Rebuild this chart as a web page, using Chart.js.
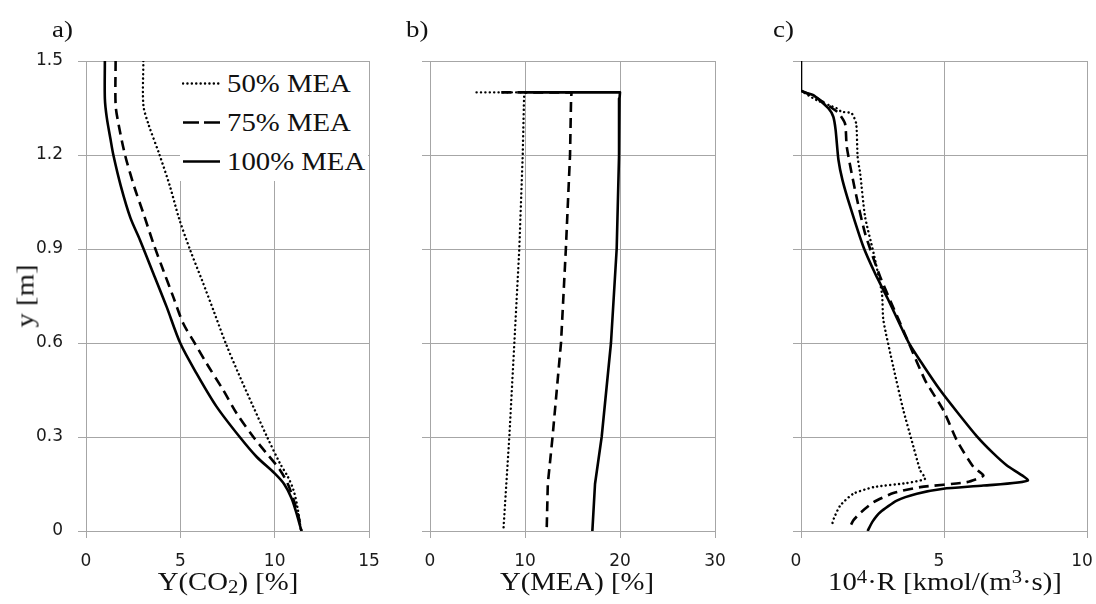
<!DOCTYPE html>
<html>
<head>
<meta charset="utf-8">
<script src="https://cdn.jsdelivr.net/npm/chart.js@4.4.1/dist/chart.umd.min.js"></script>
<style>
body { margin: 0; background: #fff; }
#wrap { position: relative; width: 1096px; height: 604px; overflow: hidden; font-family: "Liberation Serif", "Times New Roman", serif; color: #111; }
canvas { position: absolute; top: 0; }
.txt { position: absolute; line-height: 1; white-space: nowrap; }
.panel { font-size: 24px; top: 17px; transform: scaleX(1.12); transform-origin: left; }
.xtitle { font-size: 25px; top: 569px; transform: translateX(-50%) scaleX(1.15); }
.ytitle { font-size: 25px; left: 25px; top: 296px; transform: translate(-50%, -50%) rotate(-90deg) scaleX(1.15); }
sub { font-size: 0.72em; vertical-align: baseline; position: relative; top: 0.18em; }
sup { font-size: 0.72em; vertical-align: baseline; position: relative; top: -0.4em; }
#legend { position: absolute; left: 180px; top: 62px; width: 188px; height: 119px; background: #fff; }
.row { position: absolute; left: 0; width: 188px; height: 30px; }
.row svg { position: absolute; left: 2px; top: 0; }
.row span { position: absolute; left: 47px; font-size: 25px; line-height: 1; transform: scaleX(1.15); transform-origin: left; }
</style>
</head>
<body>
<div id="wrap">
  <canvas id="chartA" width="380" height="604" style="left:0px"></canvas>
  <canvas id="chartB" width="360" height="604" style="left:380px"></canvas>
  <canvas id="chartC" width="356" height="604" style="left:740px"></canvas>
  <div class="txt panel" style="left:52px">a)</div>
  <div class="txt panel" style="left:406px">b)</div>
  <div class="txt panel" style="left:773px">c)</div>
  <div class="txt ytitle">y [m]</div>
  <div class="txt xtitle" style="left:228px">Y(CO<sub>2</sub>) [%]</div>
  <div class="txt xtitle" style="left:577px">Y(MEA) [%]</div>
  <div class="txt xtitle" style="left:945px">10<sup>4</sup>·R [kmol/(m<sup>3</sup>·s)]</div>
  <div id="legend"></div>
</div>
<script>
const seriesNames = ['50% MEA', '75% MEA', '100% MEA'];
const yRange = [0, 1.5];
const yStep = 0.3;

// a) CO2 mole fraction, points are [x, y]
const co2Mea50 = [[3.04,1.5],[3.04,1.36],[3.3,1.3],[3.9,1.2],[4.45,1.1],[4.92,1.0],[5.5,0.9],[6.15,0.8],[6.78,0.7],[7.4,0.6],[8.1,0.5],[8.84,0.4],[9.6,0.3],[10.28,0.216],[10.7,0.173],[11.0,0.13],[11.2,0.078],[11.4,0]];
const co2Mea75 = [[1.57,1.5],[1.57,1.36],[1.72,1.3],[2.07,1.2],[2.55,1.1],[3.04,1.014],[3.57,0.918],[4.09,0.833],[4.62,0.748],[5.15,0.663],[5.77,0.599],[6.39,0.535],[7.27,0.45],[7.98,0.376],[8.86,0.301],[9.57,0.248],[10.28,0.195],[10.7,0.15],[11.0,0.1],[11.25,0.05],[11.42,0]];
const co2Mea100 = [[1.0,1.5],[1.0,1.38],[1.1,1.32],[1.3,1.25],[1.45,1.2],[1.85,1.1],[2.35,1.0],[2.86,0.929],[3.57,0.822],[4.27,0.716],[5.0,0.599],[5.86,0.503],[6.92,0.397],[8.16,0.299],[9.04,0.237],[10.0,0.184],[10.5,0.15],[10.9,0.104],[11.16,0.056],[11.42,0]];

// b) MEA mole fraction
const meaMea50 = [[4.9,1.4],[10.0,1.4],[9.9,1.385],[9.76,1.2],[9.4,0.9],[8.88,0.6],[8.35,0.3],[7.72,0]];
const meaMea75 = [[7.5,1.4],[14.9,1.4],[14.85,1.38],[14.74,1.2],[14.3,0.9],[13.79,0.6],[12.9,0.3],[12.4,0.15],[12.28,0]];
const meaMea100 = [[10.0,1.4],[20.0,1.4],[19.95,1.38],[19.9,1.2],[19.65,0.9],[19.05,0.6],[18.07,0.3],[17.37,0.15],[17.09,0]];

// c) reaction rate
const rateMea50 = [[0,1.405],[0.55,1.375],[1.25,1.349],[1.42,1.338],[1.77,1.333],[1.93,1.3],[1.98,1.194],[2.07,1.141],[2.24,1.003],[2.54,0.886],[2.83,0.758],[2.88,0.673],[3.23,0.523],[3.58,0.385],[3.87,0.289],[4.17,0.193],[4.34,0.167],[3.7,0.153],[2.54,0.14],[1.83,0.119],[1.37,0.081],[1.15,0.04],[1.07,0.015]];
const rateMea75 = [[0,1.405],[0.5,1.385],[1.0,1.355],[1.3,1.335],[1.54,1.3],[1.6,1.226],[1.89,1.088],[2.24,0.95],[2.77,0.811],[3.76,0.602],[4.34,0.481],[4.98,0.385],[5.45,0.289],[6.03,0.204],[6.38,0.177],[5.8,0.156],[4.17,0.14],[3.23,0.121],[2.54,0.092],[2.1,0.06],[1.83,0.034],[1.75,0.02]];
const rateMea100 = [[0,1.5],[0,1.407],[0.43,1.391],[0.96,1.349],[1.13,1.322],[1.21,1.28],[1.31,1.184],[1.45,1.12],[1.72,1.035],[2.18,0.907],[2.6,0.82],[3.03,0.742],[3.76,0.602],[4.3,0.525],[4.87,0.449],[5.5,0.375],[6.15,0.302],[6.7,0.25],[7.2,0.209],[7.93,0.161],[6.38,0.145],[4.98,0.135],[4.05,0.119],[3.35,0.097],[2.77,0.06],[2.5,0.03],[2.33,0]];

const lineStyles = [
    { borderWidth: 2.4, borderDash: [0.1, 4.3], borderCapStyle: 'round', legendDash: '0.1 4.3' },
    { borderWidth: 2.6, borderDash: [10, 6], borderCapStyle: 'butt', legendDash: '16 5' },
    { borderWidth: 2.6, borderDash: [], borderCapStyle: 'butt', legendDash: '' }
];
const gridColor = '#a6a6a6';

Chart.defaults.font.family = '"DejaVu Sans", sans-serif';
Chart.defaults.font.size = 17;
Chart.defaults.color = '#1a1a1a';

const toPoints = arr => arr.map(p => ({ x: p[0], y: p[1] }));

const makeDatasets = (series, tension) => series.map((arr, i) => ({
    label: seriesNames[i],
    data: toPoints(arr),
    showLine: true,
    borderColor: '#000',
    backgroundColor: '#000',
    borderWidth: lineStyles[i].borderWidth,
    borderDash: lineStyles[i].borderDash,
    borderCapStyle: lineStyles[i].borderCapStyle,
    borderJoinStyle: 'round',
    pointRadius: 0,
    tension: tension
}));

const makePanel = (id, series, tension, xMax, xStep, showY, yWidth, padRight, labelShift) => {
    return new Chart(document.getElementById(id), {
        type: 'scatter',
        data: { datasets: makeDatasets(series, tension) },
        options: {
            responsive: false,
            animation: false,
            devicePixelRatio: 1,
            layout: { padding: { top: 61, right: padRight, left: 0, bottom: 0 } },
            plugins: {
                legend: { display: false },
                tooltip: { enabled: false }
            },
            scales: {
                x: {
                    type: 'linear',
                    min: 0,
                    max: xMax,
                    ticks: { stepSize: xStep, padding: 13, maxRotation: 0, labelOffset: labelShift },
                    grid: { color: gridColor, lineWidth: 1, tickLength: 7 },
                    border: { color: gridColor, width: 1 },
                    afterFit: s => { s.height = 73; s.paddingLeft = 0; s.paddingRight = 0; }
                },
                y: {
                    type: 'linear',
                    min: yRange[0],
                    max: yRange[1],
                    ticks: {
                        stepSize: yStep,
                        display: showY,
                        padding: 15,
                        callback: v => v === 0 ? '0' : v.toFixed(1)
                    },
                    grid: { color: gridColor, lineWidth: 1, tickLength: 8 },
                    border: { color: gridColor, width: 1 },
                    afterFit: s => { s.width = yWidth; s.paddingTop = 0; s.paddingBottom = 0; }
                }
            }
        }
    });
};

const chartA = makePanel('chartA', [co2Mea50, co2Mea75, co2Mea100], 0.3, 15, 5, true, 86, 11, 0);
makePanel('chartB', [meaMea50, meaMea75, meaMea100], 0, 30, 10, false, 50, 25, 0);
makePanel('chartC', [rateMea50, rateMea75, rateMea100], 0.2, 10, 5, false, 61, 9, -5);

// legend box inside panel a, built from the datasets
const legend = document.getElementById('legend');
const rowTops = [7, 46, 85];
chartA.data.datasets.forEach((ds, i) => {
    const st = lineStyles[i];
    const row = document.createElement('div');
    row.className = 'row';
    row.style.top = rowTops[i] + 'px';
    const dash = st.legendDash ? ` stroke-dasharray="${st.legendDash}"` : '';
    row.innerHTML = `<svg width="40" height="30"><line x1="1" y1="14.5" x2="38" y2="14.5" stroke="#000" stroke-width="${st.borderWidth}" stroke-linecap="${st.borderCapStyle}"${dash}/></svg><span style="top:2px">${ds.label}</span>`;
    legend.appendChild(row);
});
</script>
</body>
</html>
